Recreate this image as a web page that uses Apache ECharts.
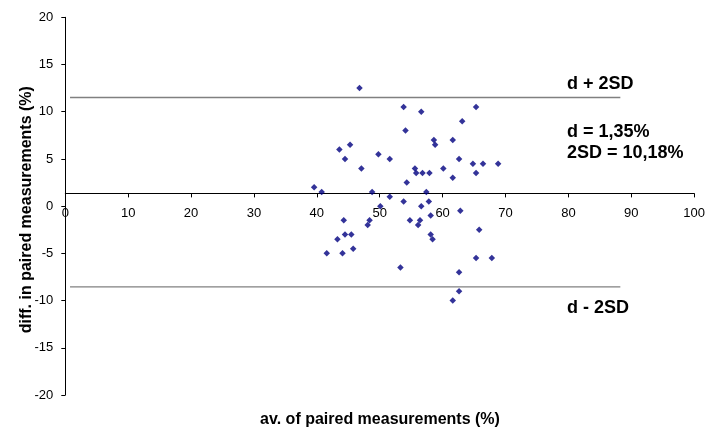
<!DOCTYPE html>
<html>
<head>
<meta charset="utf-8">
<script src="https://cdn.jsdelivr.net/npm/echarts@6/dist/echarts.min.js"></script>
<style>
html,body{margin:0;padding:0;background:#fff;}
#chart{width:708px;height:428px;}
</style>
</head>
<body>
<div id="chart"></div>
<script>
// Averages of paired measurements (%)
const avgValues = [
  46.7, 53.7, 54.0, 43.5, 45.2, 44.4, 49.7, 51.5, 47.0, 39.5,
  40.7, 48.7, 54.2, 51.5, 56.5, 65.2, 63.0, 58.5, 58.7, 61.5,
  62.5, 64.7, 66.3, 68.7, 55.5, 55.7, 56.7, 57.8, 60.0, 61.5,
  65.2, 57.3, 53.7, 50.0, 44.2, 48.3, 48.0, 43.2, 44.4, 45.4,
  45.7, 41.5, 44.0, 53.2, 54.7, 56.5, 57.7, 58.0, 62.7, 56.3,
  56.0, 58.0, 58.3, 65.7, 65.2, 67.7, 62.5, 62.5, 61.5
];
// Differences in paired measurements (%)
const diffValues = [
  12.5, 10.5, 8.0, 6.0, 6.5, 5.0, 5.5, 5.0, 4.0, 2.0,
  1.5, 1.5, 2.5, 1.0, 10.0, 10.5, 9.0, 7.0, 6.5, 7.0,
  5.0, 4.5, 4.5, 4.5, 4.0, 3.5, 3.5, 3.5, 4.0, 3.0,
  3.5, 1.5, 0.5, 0.0, -1.5, -1.5, -2.0, -3.5, -3.0, -3.0,
  -4.5, -5.0, -5.0, -6.5, -1.5, 0.0, 0.5, -1.0, -0.5, -1.5,
  -2.0, -3.0, -3.5, -2.5, -5.5, -5.5, -7.0, -9.0, -10.0
];
const meanDiff = 1.35;
const upperLimit = 11.5;
const lowerLimit = -8.55;
const limitLineX = [0.75, 88.1];
const xTicks = [0, 100, 10];
const yTicks = [-20, 20, 5];
const labels = {
  upper: 'd + 2SD',
  lower: 'd - 2SD',
  mean: 'd = 1,35%',
  sd: '2SD = 10,18%',
  xTitle: 'av. of paired measurements (%)',
  yTitle: 'diff. in paired measurements (%)'
};

const FONT = '"Liberation Sans", Arial, sans-serif';
const points = avgValues.map((v, i) => [v, diffValues[i]]);
const H = 428;
const gridBox = {left: 65.3, right: 12.7, top: 17.3, bottom: 33};

const chart = echarts.init(document.getElementById('chart'), null, {renderer: 'canvas'});
const axisCommon = {
  axisTick: {show: true, inside: false, length: 4, lineStyle: {color: '#000', width: 1}},
  splitLine: {show: false}
};
chart.setOption({
  animation: false,
  backgroundColor: '#ffffff',
  grid: [
    Object.assign({containLabel: false}, gridBox),
    {left: gridBox.left, right: gridBox.right, top: gridBox.top, bottom: H / 2, containLabel: false}
  ],
  xAxis: [{
    gridIndex: 0,
    type: 'value',
    min: xTicks[0], max: xTicks[1], interval: xTicks[2],
    show: false
  }, Object.assign({
    gridIndex: 1,
    type: 'value',
    position: 'bottom',
    min: xTicks[0], max: xTicks[1], interval: xTicks[2],
    axisLine: {show: true, onZero: false, lineStyle: {color: '#000', width: 1}},
    axisLabel: {show: true, margin: 14, color: '#000', fontSize: 13, fontFamily: FONT, showMinLabel: true, showMaxLabel: true}
  }, axisCommon)],
  yAxis: [Object.assign({
    gridIndex: 0,
    type: 'value',
    min: yTicks[0], max: yTicks[1], interval: yTicks[2],
    axisLine: {show: true, onZero: false, lineStyle: {color: '#000', width: 1}},
    axisLabel: {show: true, margin: 12, color: '#000', fontSize: 13, fontFamily: FONT, showMinLabel: true, showMaxLabel: true}
  }, axisCommon), {
    gridIndex: 1,
    type: 'value',
    show: false,
    min: 0, max: 1
  }],
  series: [{
    type: 'line',
    xAxisIndex: 0, yAxisIndex: 0,
    data: limitLineX.map(x => [x, upperLimit]),
    symbol: 'none',
    lineStyle: {color: '#808080', width: 1.4},
    silent: true,
    z: 2
  }, {
    type: 'line',
    xAxisIndex: 0, yAxisIndex: 0,
    data: limitLineX.map(x => [x, lowerLimit]),
    symbol: 'none',
    lineStyle: {color: '#808080', width: 1.4},
    silent: true,
    z: 2
  }, {
    type: 'scatter',
    xAxisIndex: 0, yAxisIndex: 0,
    data: points,
    symbol: 'diamond',
    symbolSize: 6.5,
    itemStyle: {color: '#000080'},
    z: 5
  }],
  graphic: [
    {type: 'text', x: 567, y: 84.5, style: {text: labels.upper, font: 'bold 18px ' + FONT, fill: '#000', verticalAlign: 'middle', align: 'left'}},
    {type: 'text', x: 567, y: 132.2, style: {text: labels.mean, font: 'bold 18px ' + FONT, fill: '#000', verticalAlign: 'middle', align: 'left'}},
    {type: 'text', x: 567, y: 153.4, style: {text: labels.sd, font: 'bold 18px ' + FONT, fill: '#000', verticalAlign: 'middle', align: 'left'}},
    {type: 'text', x: 567, y: 308.3, style: {text: labels.lower, font: 'bold 18px ' + FONT, fill: '#000', verticalAlign: 'middle', align: 'left'}},
    {type: 'text', x: 380, y: 420, style: {text: labels.xTitle, font: 'bold 16px ' + FONT, fill: '#000', verticalAlign: 'middle', align: 'center'}},
    {type: 'text', x: 27, y: 209.7, rotation: Math.PI / 2, style: {text: labels.yTitle, font: 'bold 16px ' + FONT, fill: '#000', verticalAlign: 'middle', align: 'center'}}
  ]
});
// Place the visible x axis at the mean difference, using the library's own y scale.
const meanY = chart.convertToPixel({yAxisIndex: 0}, meanDiff);
chart.setOption({
  grid: [{}, {bottom: H - meanY}]
});
</script>
</body>
</html>
